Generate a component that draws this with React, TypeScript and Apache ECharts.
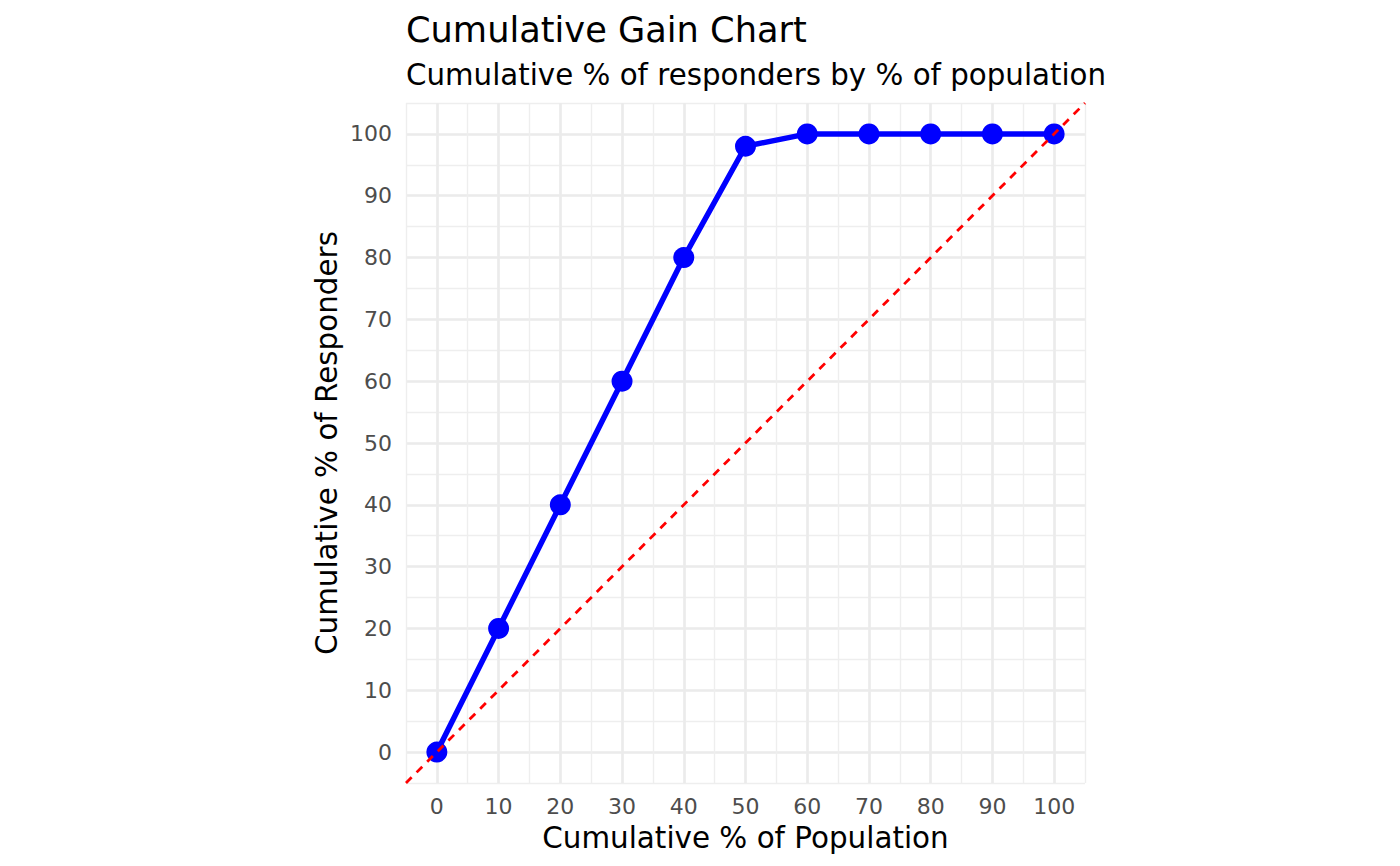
import React, { useEffect, useRef } from "react";
import * as echarts from "echarts";

const populationPct = [0, 10, 20, 30, 40, 50, 60, 70, 80, 90, 100];
const responderPct = [0, 20, 40, 60, 80, 98, 100, 100, 100, 100, 100];
const baselineX = [-5, 105];
const baselineY = [-5, 105];
const axisMin = -5;
const axisMax = 105;
const tickStep = 5;

const FONT = "DejaVu Sans";

export default function App() {
  const ref = useRef<HTMLDivElement>(null);
  useEffect(() => {
    if (!ref.current) return;
    const chart = echarts.init(ref.current, null, { renderer: "svg" });
    const labelFmt = (v: number) =>
      v % 10 === 0 && v >= 0 && v <= 100 ? String(v) : "";
    const minorAxis = (extra: any) => ({
      type: "value",
      min: axisMin,
      max: axisMax,
      interval: tickStep,
      axisLine: { show: false },
      axisTick: { show: false },
      splitLine: { show: true, lineStyle: { color: "#EEEEEE", width: 1.4 } },
      ...extra,
    });
    const majorAxis = () => ({
      type: "value",
      min: axisMin,
      max: axisMax,
      interval: tickStep,
      axisLine: { show: false },
      axisTick: { show: false },
      axisLabel: { show: false },
      splitLine: {
        show: true,
        lineStyle: { color: ["rgba(0,0,0,0)", "#EBEBEB"], width: 2.7 },
      },
    });
    chart.setOption({
      animation: false,
      backgroundColor: "#ffffff",
      textStyle: { fontFamily: FONT },
      title: [
        {
          text: "Cumulative Gain Chart",
          left: 406,
          top: 9,
          padding: 0,
          textStyle: { fontFamily: FONT, fontSize: 35.2, fontWeight: "normal", color: "#000", lineHeight: 40 },
        },
        {
          text: "Cumulative % of responders by % of population",
          left: 406,
          top: 58,
          padding: 0,
          textStyle: { fontFamily: FONT, fontSize: 29.3, fontWeight: "normal", color: "#000", lineHeight: 34 },
        },
      ],
      grid: {
        left: 406,
        top: 103,
        width: 679,
        height: 680,
        outerBoundsMode: "none",
      },
      xAxis: [
        minorAxis({
          name: "Cumulative % of Population",
          nameLocation: "middle",
          nameGap: 37.4,
          nameTextStyle: { fontFamily: FONT, fontSize: 29.4, color: "#000", lineHeight: 30 },
          axisLabel: { formatter: labelFmt, color: "#4D4D4D", fontSize: 22, lineHeight: 24, margin: 11, fontFamily: FONT },
        }),
        majorAxis(),
      ],
      yAxis: [
        minorAxis({
          name: "Cumulative % of Responders",
          nameLocation: "middle",
          nameGap: 64.3,
          nameTextStyle: { fontFamily: FONT, fontSize: 29.4, color: "#000", lineHeight: 30 },
          axisLabel: { formatter: labelFmt, color: "#4D4D4D", fontSize: 22, lineHeight: 24, padding: [4, 0, 0, 0], margin: 14, fontFamily: FONT },
        }),
        majorAxis(),
      ],
      series: [
        {
          type: "line",
          data: populationPct.map((x, i) => [x, responderPct[i]]),
          lineStyle: { color: "#0000FF", width: 5.5 },
          itemStyle: { color: "#0000FF" },
          symbol: "circle",
          symbolSize: 21,
          showSymbol: true,
          z: 3,
        },
        {
          type: "line",
          data: baselineX.map((x, i) => [x, baselineY[i]]),
          lineStyle: { color: "#FF0000", width: 2.8, type: [8, 7] },
          symbol: "none",
          z: 4,
        },
      ],
    });
    return () => chart.dispose();
  }, []);
  return (
    <div
      ref={ref}
      style={{ position: "fixed", left: 0, top: 0, width: 1400, height: 866 }}
    />
  );
}
